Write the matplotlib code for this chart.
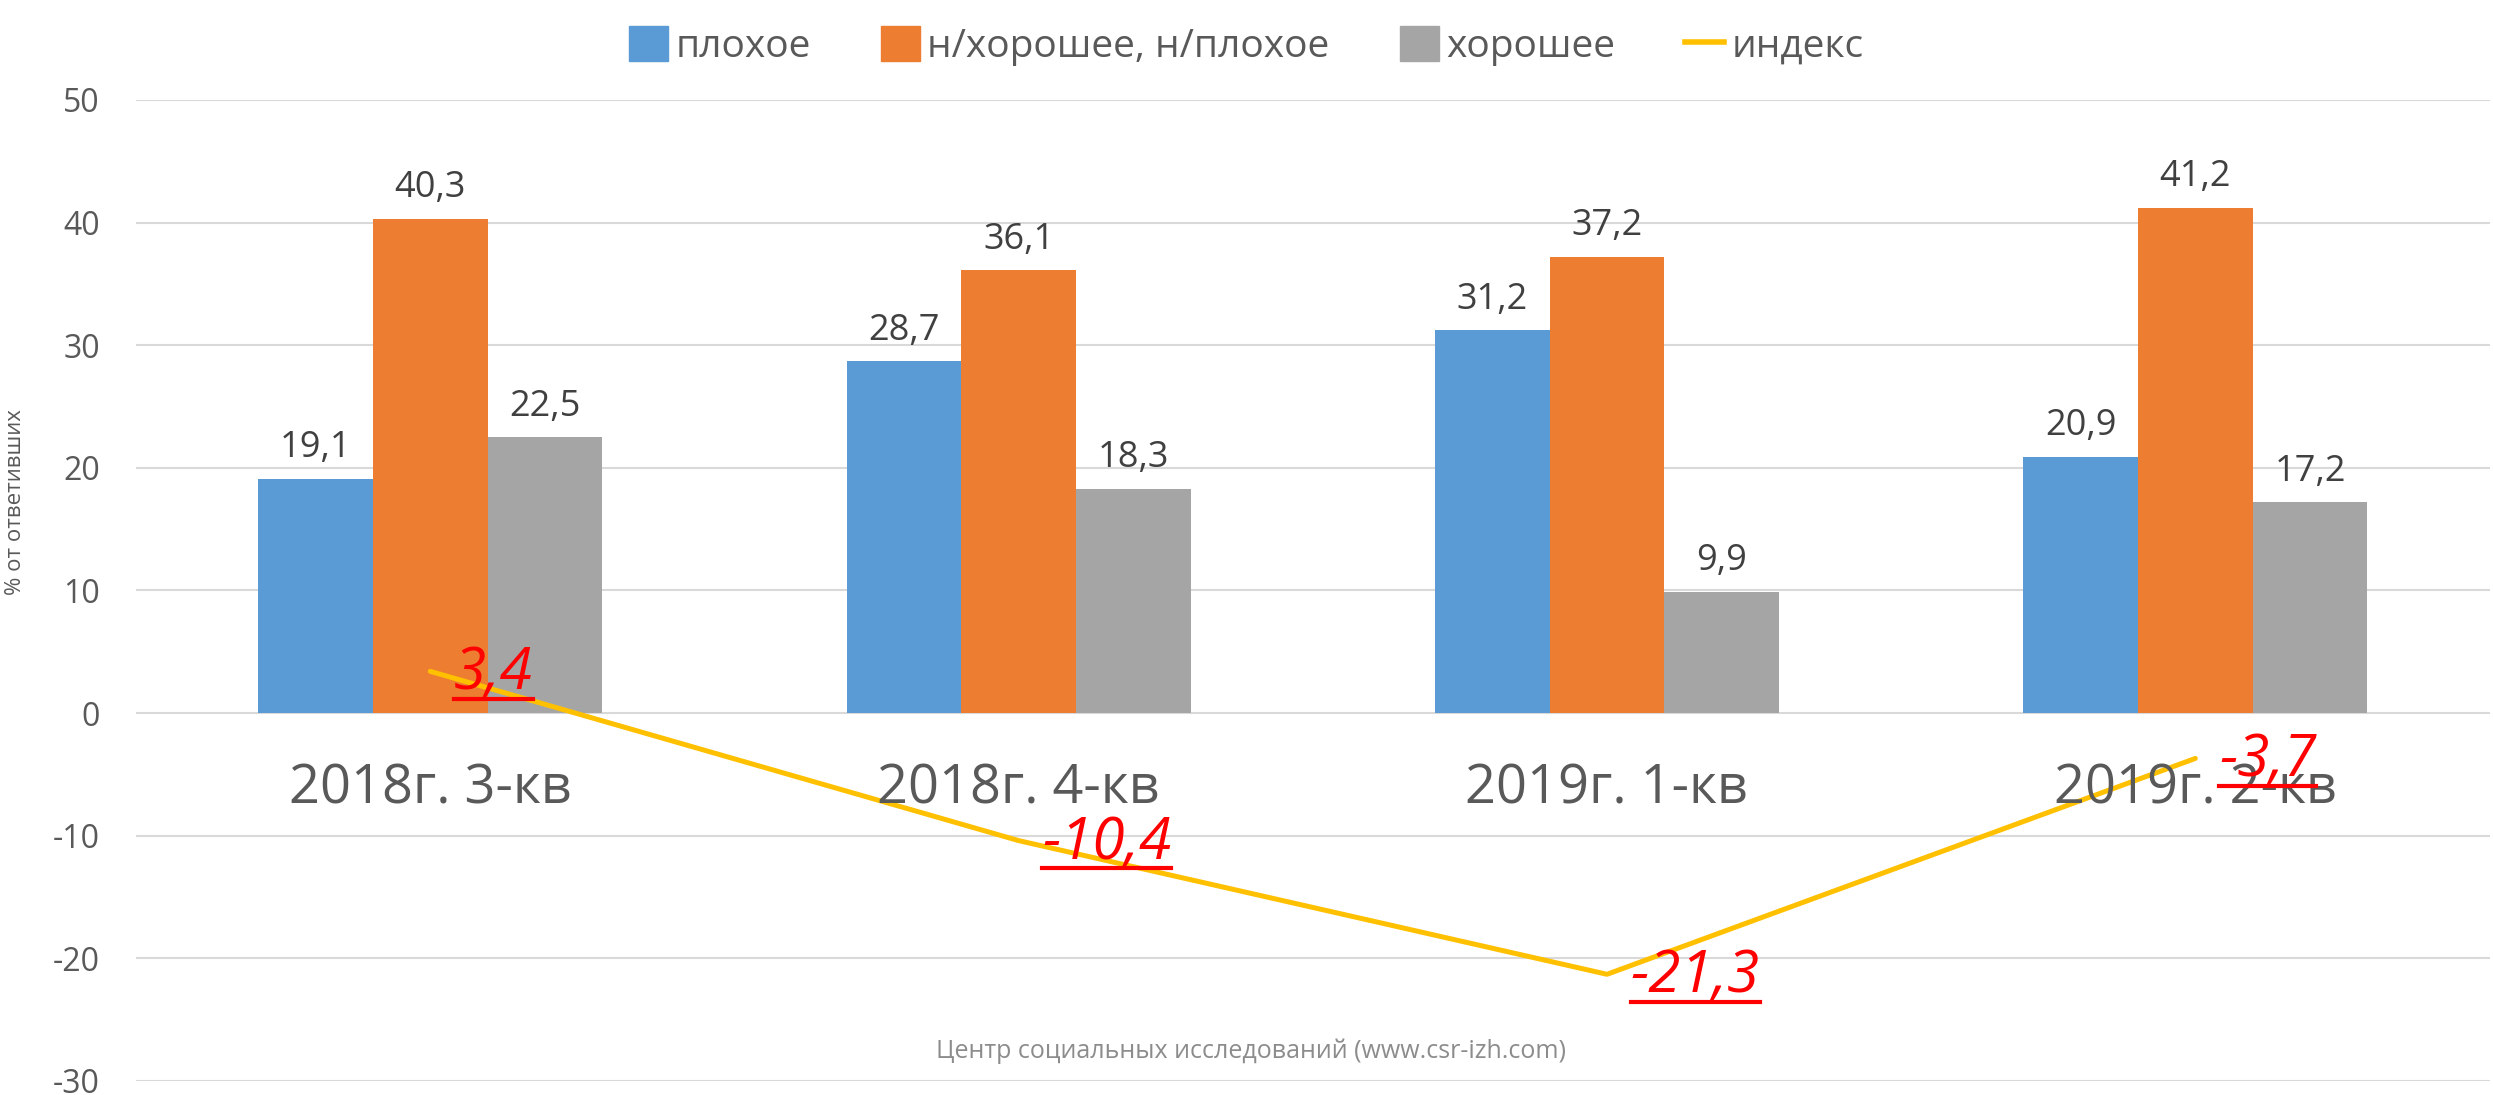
import numpy as np
import matplotlib
matplotlib.use("Agg")
import matplotlib.pyplot as plt
from matplotlib.patches import Patch
from matplotlib.lines import Line2D

plt.rcParams['font.family'] = ['Open Sans', 'DejaVu Sans']
plt.rcParams['axes.unicode_minus'] = False

# данные
categories = ["2018г. 3-кв", "2018г. 4-кв", "2019г. 1-кв", "2019г. 2-кв"]
bad = [19.1, 28.7, 31.2, 20.9]
neutral = [40.3, 36.1, 37.2, 41.2]
good = [22.5, 18.3, 9.9, 17.2]
index = [3.4, -10.4, -21.3, -3.7]
series_names = ["плохое", "н/хорошее, н/плохое", "хорошее", "индекс"]

colors = ["#5B9BD5", "#ED7D31", "#A5A5A5"]
line_color = "#FFC000"
text_gray = "#595959"

fig = plt.figure(figsize=(24.93, 10.95), dpi=100)
ax = fig.add_axes([0.0546, 0.0128, 0.944, 0.896])

x = np.arange(len(categories))
w = 0.195

for i, (vals, c) in enumerate(zip([bad, neutral, good], colors)):
    bars = ax.bar(x + (i - 1) * w, vals, w, color=c, zorder=2)
    ax.bar_label(bars, labels=[f"{v:.1f}".replace(".", ",") for v in vals],
                 padding=9, fontsize=26, color="#404040")

ax.plot(x, index, color=line_color, lw=3.6, zorder=3, solid_capstyle='round')

ax.set_xlim(-0.5, 3.5)
ax.set_ylim(-30, 50)
ax.set_yticks(range(-30, 51, 10))
ax.grid(axis='y', color="#D9D9D9", lw=1.5, zorder=0)
ax.tick_params(axis='y', length=0, labelsize=23, labelcolor=text_gray, pad=26)
for s in ax.spines.values():
    s.set_visible(False)

# подписи категорий у нулевой линии
ax.set_xticks([])
for xi, lab in zip(x, categories):
    ax.annotate(lab, (xi, 0), xytext=(0, -55), textcoords='offset points',
                ha='center', va='center', fontsize=39, color=text_gray)

ax.set_ylabel("% от ответивших", fontsize=16, color=text_gray)
ax.yaxis.set_label_coords(-0.047, 0.59)

# подписи индекса
idx_texts = []
for xi, v in zip(x, index):
    t = ax.annotate(f"{v:.1f}".replace(".", ","), (xi, v), xytext=(17, -2),
                    textcoords='offset points', ha='left', va='center',
                    fontsize=42, color='red', style='italic', zorder=4)
    idx_texts.append(t)

handles = [Patch(color=c) for c in colors] + [Line2D([], [], color=line_color, lw=4)]
fig.legend(handles, series_names, loc='upper center', bbox_to_anchor=(0.5, 1.008),
           ncol=4, frameon=False, fontsize=28, labelcolor=text_gray,
           handlelength=1.0, handleheight=1.0, handletextpad=0.2, columnspacing=1.8)

fig.text(0.502, 0.04, "Центр социальных исследований (www.csr-izh.com)",
         ha='center', va='center', fontsize=18, color="#8C8C8C")

# подчёркивание подписей индекса
fig.canvas.draw()
inv = fig.transFigure.inverted()
for t in idx_texts:
    bb = t.get_window_extent()
    (x0, y0), (x1, _) = inv.transform([(bb.x0, bb.y0), (bb.x1, bb.y0)])
    fig.add_artist(Line2D([x0, x1], [y0 + 0.004, y0 + 0.004], color='red', lw=3,
                          transform=fig.transFigure, zorder=5))

fig.savefig("out.png", dpi=100, facecolor='white')
